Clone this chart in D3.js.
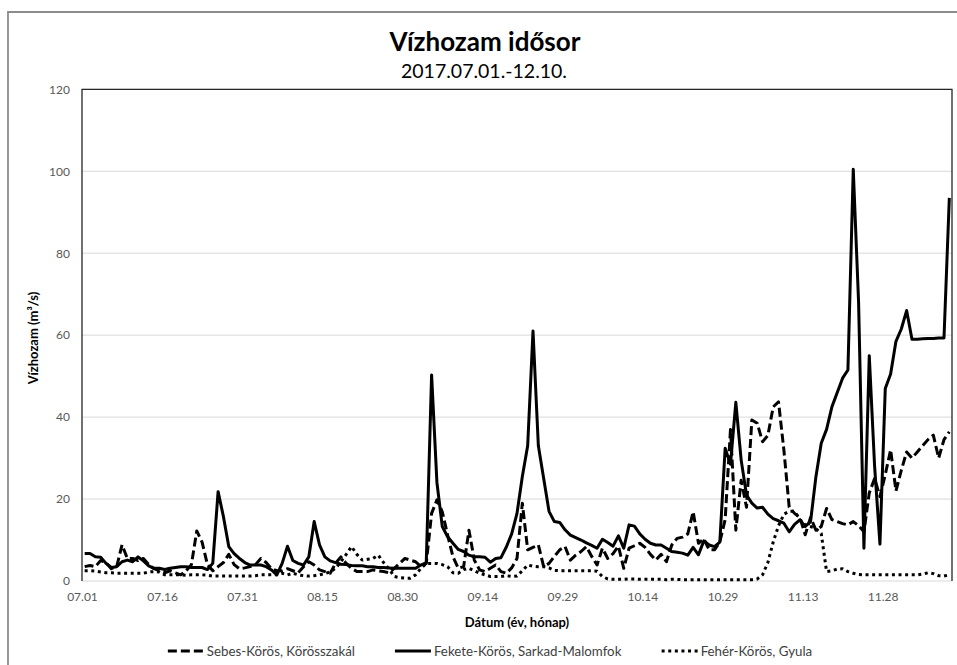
<!DOCTYPE html>
<html>
<head>
<meta charset="utf-8">
<script src="https://cdn.jsdelivr.net/npm/d3@7"></script>
<style>
body { margin: 0; background: #fff; }
svg { display: block; font-family: Lato, "Open Sans", sans-serif; }
</style>
</head>
<body>
<svg></svg>
<script>
const svgWidth = 957;
const svgHeight = 665;
const plot = { left: 82, right: 952, top: 89.3, bottom: 581 };

// daily values from 2017.07.01 to 2017.12.10, m3/s
const startDay = "2017.07.01";
const axisEnd = "2017.12.11";
const tickLabels = ["07.01", "07.16", "07.31", "08.15", "08.30", "09.14", "09.29", "10.14", "10.29", "11.13", "11.28"];
const yTicks = [0, 20, 40, 60, 80, 100, 120];
const seriesNames = ["Sebes-Körös, Körösszakál", "Fekete-Körös, Sarkad-Malomfok", "Fehér-Körös, Gyula"];

const sebes = [
	3.5, 3.8, 3.5, 5, 4.5, 3, 3.5, 8.8, 5.5, 5.5, 5, 5.5, 4, 3, 2.5, 2, 2.5, 2, 1.5, 2.5,
	4, 12.2, 9.5, 4, 2.5, 3.5, 4.5, 6.5, 4, 3, 3.2, 3.5, 4, 5.5, 4.5, 3, 2.5, 2.5, 3, 2.5,
	2, 3.5, 4.7, 3.9, 2.7, 2.3, 1.9, 4.3, 5.9, 4.3, 3.1, 2.3, 2.3, 2.3, 2.7, 2.5, 2.3, 2, 3.1, 4.3,
	5.5, 5.1, 4.7, 3.5, 4.3, 16.5, 19.8, 16.9, 11.2, 5.9, 3.1, 3.5, 12.4, 5.1, 2.7, 2.3, 3.1, 3.9, 2.3, 1.9,
	3.2, 5.5, 19, 7.6, 8.2, 8.8, 3.5, 4.3, 6, 7.6, 8.4, 5.1, 6.3, 7.2, 8.4, 6, 3.9, 8, 5.5, 6.7,
	8.5, 3.1, 8, 8.6, 9.2, 8.2, 6.5, 5.1, 6.5, 4.7, 8.8, 10.4, 10.7, 11.5, 16.9, 9.2, 10.3, 7.6, 7.6, 9.5,
	15, 37, 12.4, 24.6, 18, 39.3, 38.5, 34, 35.5, 42.5, 43.7, 32, 18, 16.5, 15.5, 11.3, 15.5, 12.4, 13.3, 17.7,
	15, 14.5, 14, 13.7, 14.5, 13.5, 12, 21.5, 25, 20.6, 26, 32, 22, 27, 31.5, 30, 31.5, 33, 34.5, 35.6,
	30, 34.5, 36.4
];

const fekete = [
	6.7, 6.7, 5.9, 5.8, 4.3, 3.3, 3.5, 4.7, 5.1, 4.7, 5.9, 4.9, 3.7, 3.1, 3.1, 2.8, 3.1, 3.3, 3.5, 3.5,
	3.3, 3.3, 3.3, 2.8, 4.3, 21.8, 15.7, 8.4, 6.7, 5.5, 4.5, 3.9, 3.9, 3.9, 3.5, 2.7, 1.5, 4.3, 8.5, 5,
	4.3, 3.9, 5.9, 14.5, 8.8, 5.9, 4.9, 4.5, 4.1, 4, 3.8, 3.7, 3.7, 3.5, 3.5, 3.3, 3.3, 3.2, 3.1, 3.1,
	3.1, 3.1, 3.1, 3.9, 4.5, 50.3, 24, 13.3, 10.8, 9.2, 7.7, 7.2, 6.3, 5.9, 5.9, 5.8, 4.6, 5.5, 5.7, 8.3,
	11.5, 16.5, 25.5, 33, 61, 33, 25, 17, 14.5, 14.3, 12.5, 11.2, 10.6, 10, 9.3, 8.7, 8, 10.2, 9.4, 8.5,
	11, 8, 13.7, 13.4, 11.5, 10.2, 9.2, 8.8, 8.8, 8, 7.2, 7, 6.8, 6.3, 8.2, 6.4, 9.8, 8.8, 8.4, 9.5,
	32.4, 28.5, 43.6, 29.5, 21, 19, 17.8, 18, 16.3, 15.2, 14.7, 14.1, 12, 13.8, 14.9, 13.3, 14.5, 25.4, 33.6, 37,
	42.5, 46, 49.5, 51.5, 100.5, 68, 8, 55, 28, 9, 47, 50.5, 58.5, 61.5, 66, 59, 59, 59.1, 59.2, 59.2,
	59.3, 59.3, 93.5
];

const feher = [
	2.5, 2.5, 2.4, 2.2, 2, 2, 1.9, 1.9, 1.9, 1.9, 1.9, 1.9, 2.2, 2.3, 2.2, 1.5, 1.5, 1.5, 1.5, 1.4,
	1.5, 1.5, 1.5, 1.4, 1.2, 1.2, 1.2, 1.2, 1.2, 1.2, 1.2, 1.2, 1.3, 1.5, 1.5, 1.5, 1.5, 1.9, 1.5, 1.9,
	1.5, 1.3, 1.2, 1.3, 1.5, 1.8, 2.2, 3.1, 4.7, 6.5, 8.4, 6.5, 5.1, 5.3, 5.5, 6.3, 4.5, 3, 1.1, 0.8,
	0.7, 0.7, 1.5, 3.1, 4.3, 4.3, 4.3, 4, 3.5, 2, 1.9, 2.8, 3.1, 2.5, 1.9, 1.5, 1.1, 1.1, 1.1, 1.3,
	1.1, 1.2, 2.5, 3.9, 3.6, 3.5, 3.5, 3.2, 2.6, 2.5, 2.5, 2.5, 2.5, 2.5, 2.5, 2.5, 2.4, 1.1, 0.5, 0.4,
	0.4, 0.4, 0.5, 0.5, 0.4, 0.4, 0.4, 0.4, 0.4, 0.3, 0.4, 0.4, 0.3, 0.3, 0.3, 0.3, 0.3, 0.3, 0.3, 0.3,
	0.3, 0.3, 0.3, 0.3, 0.3, 0.3, 0.5, 1.5, 4.5, 9.5, 13.5, 16.3, 17, 17, 15, 13.7, 13.3, 12.8, 11.6, 2.3,
	2.5, 2.9, 3, 2.3, 1.9, 1.6, 1.5, 1.5, 1.5, 1.5, 1.5, 1.5, 1.5, 1.5, 1.5, 1.5, 1.5, 1.7, 2, 1.8,
	1.3, 1.2, 1.5
];

const parseDay = d3.utcParse("%Y.%m.%d");
const firstDay = parseDay(startDay);
const days = sebes.map((d, i) => d3.utcDay.offset(firstDay, i));

const svg = d3.select("svg")
	.attr("width", svgWidth)
	.attr("height", svgHeight);

// outer chart frame
svg.append("path")
	.attr("d", `M8,${svgHeight + 2} V12 H${svgWidth + 2}`)
	.attr("fill", "none")
	.attr("stroke", "#8c8c8c")
	.attr("stroke-width", 1.8);

const xScale = d3.scaleUtc()
	.domain([firstDay, parseDay(axisEnd)])
	.range([plot.left, plot.right]);
const yScale = d3.scaleLinear()
	.domain([0, 120])
	.range([plot.bottom, plot.top]);

// gridlines
svg.append("g")
	.selectAll("line")
	.data(yTicks)
	.enter()
	.append("line")
		.attr("x1", plot.left)
		.attr("x2", plot.right)
		.attr("y1", d => yScale(d))
		.attr("y2", d => yScale(d))
		.attr("stroke", "#d9d9d9")
		.attr("stroke-width", 1);

// plot frame: top, left, right
svg.append("path")
	.attr("d", `M${plot.left},${plot.bottom} V${plot.top} H${plot.right} V${plot.bottom}`)
	.attr("fill", "none")
	.attr("stroke", "#262626")
	.attr("stroke-width", 1.3);

// y axis labels
let yAxis = d3.axisLeft(yScale)
	.tickValues(yTicks)
	.tickSize(0)
	.tickPadding(12);
svg.append("g")
	.attr("transform", `translate(${plot.left}, 0)`)
	.call(yAxis)
	.call(g => g.select(".domain").remove())
	.selectAll("text")
		.attr("fill", "#595959")
		.attr("font-size", "12px")
		.attr("font-family", "Lato, sans-serif");

// x axis labels
const tickDates = tickLabels.map(l => parseDay("2017." + l));
let xAxis = d3.axisBottom(xScale)
	.tickValues(tickDates)
	.tickFormat(d3.utcFormat("%m.%d"))
	.tickSize(0)
	.tickPadding(11);
svg.append("g")
	.attr("transform", `translate(0, ${plot.bottom})`)
	.call(xAxis)
	.call(g => g.select(".domain").remove())
	.selectAll("text")
		.attr("fill", "#595959")
		.attr("font-size", "12px")
		.attr("font-family", "Lato, sans-serif");

// series lines
const styles = [
	{ values: sebes, dash: "9 4" },
	{ values: fekete, dash: null },
	{ values: feher, dash: "3 3.6" }
];

const line = d3.line()
	.x((d, i) => xScale(d3.utcHour.offset(days[i], 12)))
	.y(d => yScale(d));

styles.forEach(s => {
	svg.append("path")
		.datum(s.values)
		.attr("d", line)
		.attr("fill", "none")
		.attr("stroke", "#000")
		.attr("stroke-width", 3)
		.attr("stroke-linejoin", "round")
		.attr("stroke-dasharray", s.dash);
});

// Titles
svg.append("text")
	.text("Vízhozam idősor")
	.attr("x", 485)
	.attr("y", 51)
	.attr("text-anchor", "middle")
	.attr("font-size", "26px")
	.attr("font-weight", "bold")
	.attr("fill", "#000");

svg.append("text")
	.text("2017.07.01.-12.10.")
	.attr("x", 484)
	.attr("y", 78)
	.attr("text-anchor", "middle")
	.attr("font-size", "19.5px")
	.attr("fill", "#000");

svg.append("text")
	.text("Dátum (év, hónap)")
	.attr("x", 517)
	.attr("y", 626.5)
	.attr("text-anchor", "middle")
	.attr("font-size", "13px")
	.attr("font-weight", "bold")
	.attr("fill", "#000");

svg.append("text")
	.text("Vízhozam (m³/s)")
	.attr("transform", "rotate(-90)")
	.attr("x", -338)
	.attr("y", 38)
	.attr("text-anchor", "middle")
	.attr("font-size", "13px")
	.attr("font-weight", "bold")
	.attr("fill", "#000");

// Legend
const legend = svg.append("g");
const legendY = 651;
const items = legend.selectAll("g")
	.data(styles)
	.enter()
	.append("g");
items.append("line")
	.attr("x1", 0)
	.attr("x2", 36)
	.attr("y1", legendY)
	.attr("y2", legendY)
	.attr("stroke", "#000")
	.attr("stroke-width", 3)
	.attr("stroke-dasharray", d => d.dash);
items.append("text")
	.text((d, i) => seriesNames[i])
	.attr("x", 39)
	.attr("y", legendY)
	.attr("dy", "0.35em")
	.attr("font-size", "13.3px")
	.attr("fill", "#404040");

let widths = [];
items.each(function () { widths.push(this.getBBox().width); });
const gap = 40;
const total = d3.sum(widths) + gap * (widths.length - 1);
let cursor = 490 - total / 2;
items.attr("transform", (d, i) => {
	const t = `translate(${cursor}, 0)`;
	cursor += widths[i] + gap;
	return t;
});
</script>
</body>
</html>
